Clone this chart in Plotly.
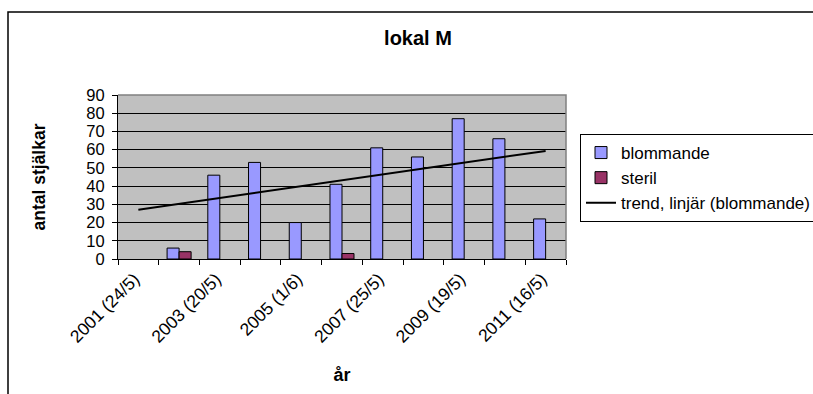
import numpy as np
import plotly.graph_objects as go

# Flowering-stem counts per survey year at "lokal M"
years = [2001, 2002, 2003, 2004, 2005, 2006, 2007, 2008, 2009, 2010, 2011]
blommande = [None, 6, 46, 53, 20, 41, 61, 56, 77, 66, 22]
steril = [None, 4, None, None, None, 3, None, None, None, None, None]

# Labelled years (survey date in brackets)
label_years = [2001, 2003, 2005, 2007, 2009, 2011]
label_text = ["2001 (24/5)", "2003 (20/5)", "2005 (1/6)", "2007 (25/5)", "2009 (19/5)", "2011 (16/5)"]

FONT = "Liberation Sans, Arial, sans-serif"

# Linear trend of flowering stems, fitted over the years that have data
fit_x = [y for y, v in zip(years, blommande) if v is not None]
fit_y = [v for v in blommande if v is not None]
slope, intercept = np.polyfit(fit_x, fit_y, 1)
trend_x = [years[0], years[-1]]
trend_y = [slope * x + intercept for x in trend_x]

fig = go.Figure()
fig.add_trace(go.Bar(
    x=years, y=blommande, name="blommande",
    marker=dict(color="#9999FF", line=dict(color="#000000", width=1)),
    legendgroup="a",
))
fig.add_trace(go.Bar(
    x=years, y=steril, name="steril",
    marker=dict(color="#993366", line=dict(color="#000000", width=1)),
    legendgroup="b",
))
fig.add_trace(go.Scatter(
    x=trend_x, y=trend_y, mode="lines", name="trend, linjär (blommande)",
    line=dict(color="#000000", width=2), legendgroup="c",
))
# Invisible trace carrying the between-category tick marks
fig.add_trace(go.Scatter(
    x=[years[0]], y=[None], xaxis="x2", showlegend=False, hoverinfo="skip",
))

x_range = [years[0] - 0.5, years[-1] + 0.5]
boundaries = [y - 0.5 for y in years] + [years[-1] + 0.5]

fig.update_layout(
    width=813, height=394,
    margin=dict(l=118, r=247, t=95, b=135, autoexpand=False),
    paper_bgcolor="#FFFFFF",
    plot_bgcolor="#C0C0C0",
    font=dict(family=FONT, size=17, color="#000000"),
    barmode="group", bargap=0.41, bargroupgap=0,
    title=dict(
        text="<b>lokal M</b>", font=dict(family=FONT, size=20, color="#000000"),
        x=418 / 813, xref="container", xanchor="center",
        y=1 - 38 / 394, yref="container", yanchor="middle",
    ),
    xaxis=dict(
        range=x_range, tickmode="array", tickvals=label_years, ticktext=label_text,
        tickangle=-45, ticks="", showgrid=False, zeroline=False,
        showline=True, linecolor="#000000", linewidth=1,
        tickfont=dict(family=FONT, size=17.5, color="#000000"),
        ticklabelshift=-4, ticklabelstandoff=2,
        title=dict(text="<b>år</b>", font=dict(family=FONT, size=18), standoff=22),
    ),
    xaxis2=dict(
        range=x_range, overlaying="x", anchor="y", side="bottom",
        tickmode="array", tickvals=boundaries, ticks="outside", ticklen=5,
        tickcolor="#000000", tickwidth=1, showticklabels=False,
        showgrid=False, zeroline=False, showline=False,
    ),
    yaxis=dict(
        range=[0, 90], tickmode="linear", tick0=0, dtick=10,
        ticks="outside", ticklen=5, tickcolor="#000000",
        showgrid=True, gridcolor="#000000", gridwidth=1,
        showline=True, linecolor="#000000", linewidth=1, zeroline=False,
        tickfont=dict(family=FONT, size=16.5, color="#000000"),
        ticklabelstandoff=4,
        title=dict(text="<b>antal stjälkar</b>", font=dict(family=FONT, size=17.5), standoff=36),
    ),
    legend=dict(
        x=(580 - 118) / 448, xanchor="left", y=(259 - 134) / 164, yanchor="top",
        bordercolor="#000000", borderwidth=1, bgcolor="#FFFFFF",
        font=dict(family=FONT, size=17, color="#000000"),
        traceorder="normal", tracegroupgap=9, itemwidth=30,
    ),
    shapes=[
        # grey top/right edge of the plot area
        dict(type="path", xref="paper", yref="paper",
             path="M 0 1 L 1 1 L 1 0", line=dict(color="#808080", width=1.5), layer="above"),
        # outer chart frame
        dict(type="rect", xref="paper", yref="paper",
             x0=(8 - 118) / 448, x1=2.0, y0=-2.0, y1=(259 - 12) / 164,
             line=dict(color="#000000", width=1.5), fillcolor="rgba(0,0,0,0)"),
    ],
)

fig.write_html("out.html")
